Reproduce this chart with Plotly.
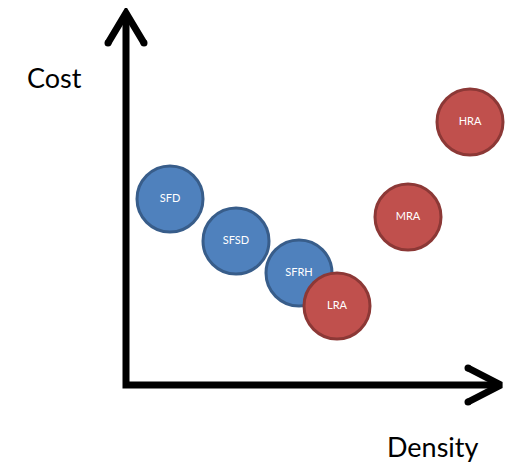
import plotly.graph_objects as go

# positions relative to the axis origin (density to the right, cost upwards)
blue_labels = ["SFD", "SFSD", "SFRH"]
blue_density = [44, 110, 173]
blue_cost = [186, 144, 112]

red_labels = ["LRA", "MRA", "HRA"]
red_density = [211, 282, 344]
red_cost = [79, 168, 263]

x_end = 375
y_end = 372

# the page body keeps an 8px margin, so the figure is a bit smaller
page_pad = 8

fig = go.Figure()

# axes drawn as a thick L
fig.add_shape(type="path", path=f"M 0 {y_end} L 0 0 L {x_end} 0",
              line=dict(color="black", width=7), xref="x", yref="y")

# chevron arrow heads
for hx, hy in [([-18, 0, 18], [y_end - 30, y_end, y_end - 30]),
               ([x_end - 33, x_end, x_end - 33], [17, 0, -17])]:
    fig.add_trace(go.Scatter(x=hx, y=hy, mode="lines",
                             line=dict(color="black", width=7),
                             hoverinfo="skip", showlegend=False))
    fig.add_trace(go.Scatter(x=[hx[0], hx[2]], y=[hy[0], hy[2]], mode="markers",
                             marker=dict(color="black", size=7),
                             hoverinfo="skip", showlegend=False))

fig.add_trace(go.Scatter(
    x=blue_density, y=blue_cost, mode="markers+text", text=blue_labels,
    textposition="middle center",
    textfont=dict(family="Lato", size=11, color="white"),
    marker=dict(size=66, color="#4F81BD", line=dict(color="#385D8A", width=3)),
    showlegend=False))

fig.add_trace(go.Scatter(
    x=red_density, y=red_cost, mode="markers+text", text=red_labels,
    textposition="middle center",
    textfont=dict(family="Lato", size=11, color="white"),
    marker=dict(size=66, color="#C0504D", line=dict(color="#8C3836", width=3)),
    showlegend=False))

fig.add_annotation(x=-72, y=308, text="Cost", showarrow=False,
                   font=dict(family="Lato", size=27, color="black"))
fig.add_annotation(x=307, y=-61, text="Density", showarrow=False,
                   font=dict(family="Lato", size=27, color="black"))

fig.update_layout(
    width=525 - page_pad, height=471 - page_pad,
    margin=dict(l=0, r=0, t=0, b=0),
    plot_bgcolor="white", paper_bgcolor="white",
    xaxis=dict(range=[-126 + page_pad, 399], visible=False, fixedrange=True),
    yaxis=dict(range=[-86, 385 - page_pad], visible=False, fixedrange=True),
)

fig.write_html("out.html")
